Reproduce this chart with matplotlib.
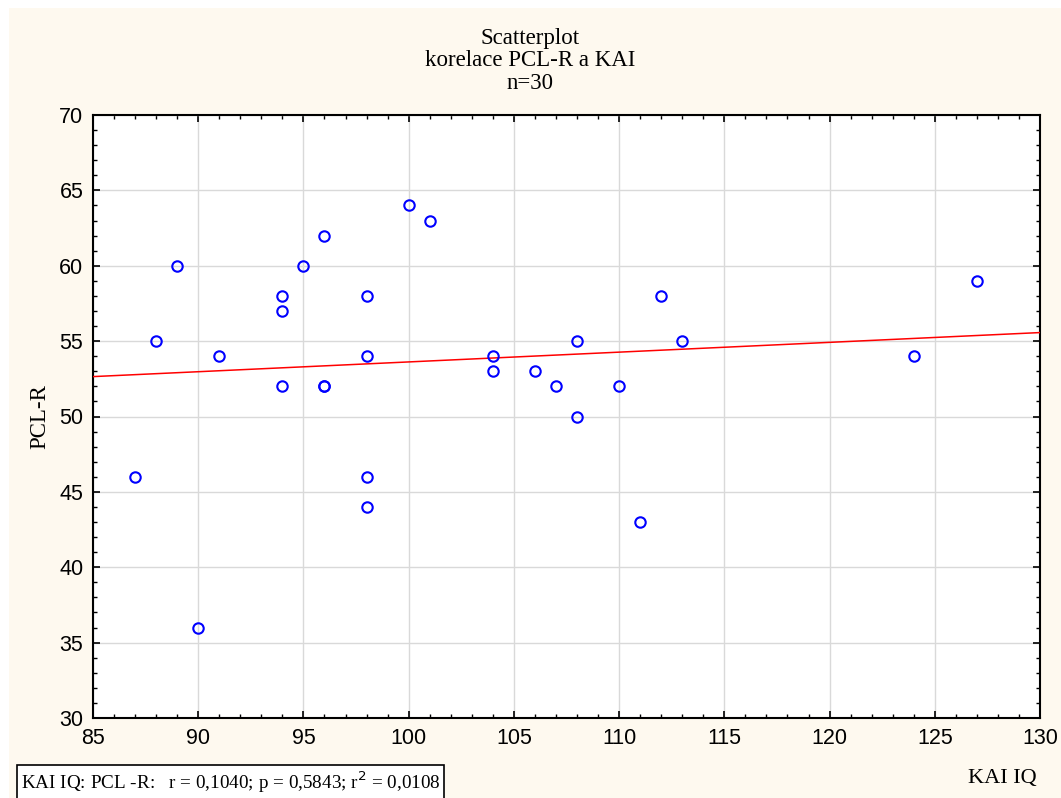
import matplotlib
matplotlib.use("Agg")
import matplotlib.pyplot as plt
from matplotlib.patches import Rectangle
from matplotlib.ticker import MultipleLocator
import numpy as np

# KAI IQ vs PCL-R, n=30
kai_iq = [87, 88, 89, 90, 91, 94, 94, 94, 95, 96, 96, 96, 98, 98, 98,
          98, 100, 101, 104, 104, 106, 107, 108, 108, 110, 111, 112, 113, 124, 127]
pcl_r = [46, 55, 60, 36, 54, 58, 57, 52, 60, 62, 52, 52, 58, 54, 46,
         44, 64, 63, 54, 53, 53, 52, 55, 50, 52, 43, 58, 55, 54, 59]

x_ticks = [85, 90, 95, 100, 105, 110, 115, 120, 125, 130]
y_ticks = [30, 35, 40, 45, 50, 55, 60, 65, 70]

serif = "Liberation Serif"
sans = "Liberation Sans"

fig = plt.figure(figsize=(10.61, 7.98), dpi=100, facecolor="white")
# cream panel behind everything
fig.patches.append(Rectangle((9 / 1061, 0), 1, 1 - 8 / 798, transform=fig.transFigure,
                             facecolor="#fef9ef", edgecolor="none", zorder=-10))

ax = fig.add_axes([93 / 1061, 1 - 718 / 798, (1040 - 93) / 1061, (718 - 115) / 798])
ax.set_facecolor("white")

# regression line
slope, intercept = np.polyfit(kai_iq, pcl_r, 1)
xs = np.array([85, 130])
ax.plot(xs, intercept + slope * xs, color="red", linewidth=1.1, zorder=3)

ax.plot(kai_iq, pcl_r, linestyle="none", marker="o", markersize=7.5,
        markerfacecolor="none", markeredgecolor="blue", markeredgewidth=1.5, zorder=4)

ax.set_xlim(85, 130)
ax.set_ylim(30, 70)
ax.set_xticks(x_ticks)
ax.set_yticks(y_ticks)
ax.xaxis.set_minor_locator(MultipleLocator(1))
ax.yaxis.set_minor_locator(MultipleLocator(1))
ax.grid(True, which="major", color="#d9d9d9", linewidth=1)
ax.set_axisbelow(True)
ax.tick_params(which="both", direction="in", top=True, right=True, color="black")
ax.tick_params(which="major", length=5, width=1.2, labelsize=15.5, pad=7)
ax.tick_params(which="minor", length=3, width=1)
for lbl in ax.get_xticklabels() + ax.get_yticklabels():
    lbl.set_fontfamily(sans)
for sp in ax.spines.values():
    sp.set_linewidth(1.5)
    sp.set_color("black")

fig.text(0.5, 1 - 61 / 798, "Scatterplot\nkorelace PCL-R a KAI\nn=30", ha="center", va="center",
         fontsize=16.5, family=serif, linespacing=1.08)
fig.text(40 / 1061, 1 - 417 / 798, "PCL-R", rotation=90, ha="center", va="center",
         fontsize=16.5, family=serif)
fig.text(1037 / 1061, 1 - 779 / 798, "KAI IQ", ha="right", va="center",
         fontsize=16, family=serif)

fig.text(21 / 1061, 1 - 782 / 798,
         "KAI IQ: PCL -R:   r = 0,1040; p = 0,5843; r$^2$ = 0,0108",
         ha="left", va="center", fontsize=13.8, family=serif,
         bbox=dict(boxstyle="square,pad=0.2", facecolor="white", edgecolor="black", linewidth=1.2))

fig.savefig("out.png", dpi=100, facecolor=fig.get_facecolor())
